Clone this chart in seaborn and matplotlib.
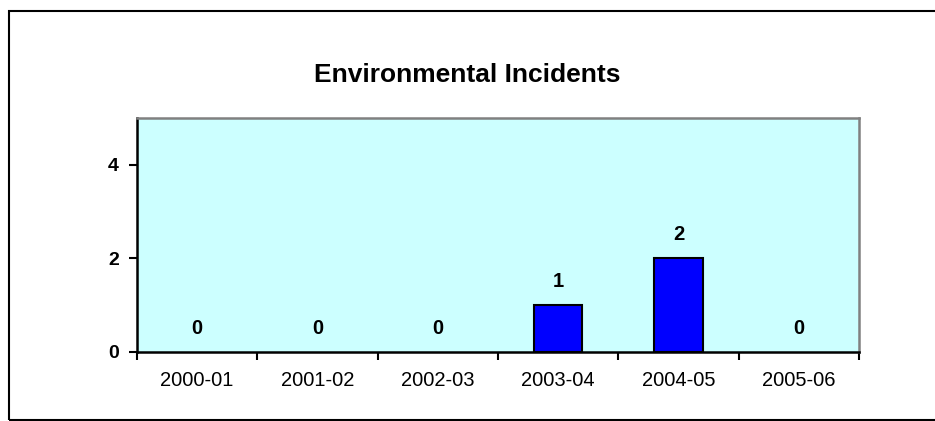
import matplotlib
matplotlib.use('Agg')
import matplotlib.pyplot as plt
import matplotlib.patches as mpatches
import seaborn as sns
import pandas as pd

years = ['2000-01', '2001-02', '2002-03', '2003-04', '2004-05', '2005-06']
incidents = [0, 0, 0, 1, 2, 0]

df = pd.DataFrame({'Year': years, 'Incidents': incidents})

sns.set_style('white')
plt.rcParams['font.family'] = ['Liberation Sans', 'DejaVu Sans']
plt.rcParams['text.color'] = 'black'
plt.rcParams['xtick.color'] = 'black'
plt.rcParams['ytick.color'] = 'black'

fig = plt.figure(figsize=(9.35, 4.21), dpi=100)
ax = fig.add_axes([137 / 935, 1 - 352 / 421, (859 - 137) / 935, (352 - 118) / 421])

sns.barplot(x='Year', y='Incidents', data=df, color='#0000FF', width=0.4,
            edgecolor='black', linewidth=1.5, saturation=1, ax=ax)

# zero bars are not drawn in the original
for p in ax.patches:
    if p.get_height() == 0:
        p.set_visible(False)

ax.set_facecolor('#CCFFFF')
ax.set_ylim(0, 5)
ax.set_xlim(-0.5, len(years) - 0.5)
ax.set_xlabel('')
ax.set_ylabel('')

# y ticks
ax.set_yticks([0, 2, 4])
ax.set_yticklabels(['0', '2', '4'], fontsize=14, fontweight='bold')
ax.tick_params(axis='y', direction='out', length=6, width=1.5, left=True, pad=7)

# x ticks at the category boundaries, labels at the centres
ax.set_xticks([i - 0.5 for i in range(len(years) + 1)])
ax.set_xticklabels([''] * (len(years) + 1))
ax.set_xticks(range(len(years)), minor=True)
ax.set_xticklabels(years, minor=True, fontsize=14.5)
ax.tick_params(axis='x', which='major', direction='out', length=6, width=1.5, bottom=True)
ax.tick_params(axis='x', which='minor', length=0, pad=14)

for side in ['left', 'bottom']:
    ax.spines[side].set_color('black')
    ax.spines[side].set_linewidth(1.8)
for side in ['top', 'right']:
    ax.spines[side].set_color('#808080')
    ax.spines[side].set_linewidth(1.8)

# value labels
for i, v in enumerate(incidents):
    ax.annotate(str(v), (i, v), xytext=(0, 17), textcoords='offset points',
                ha='center', va='center', fontsize=14.5, fontweight='bold')

fig.text(0.5, 1 - 75 / 421, 'Environmental Incidents', ha='center', va='center',
         fontsize=19, fontweight='bold')

# outer chart border (runs off the right and bottom edges)
fig.patches.append(mpatches.Rectangle((9 / 935, 1.5 / 421), 1.0, 1 - 12.5 / 421,
                                      transform=fig.transFigure, fill=False,
                                      edgecolor='black', linewidth=1.5))

fig.savefig('out.png', dpi=100)
